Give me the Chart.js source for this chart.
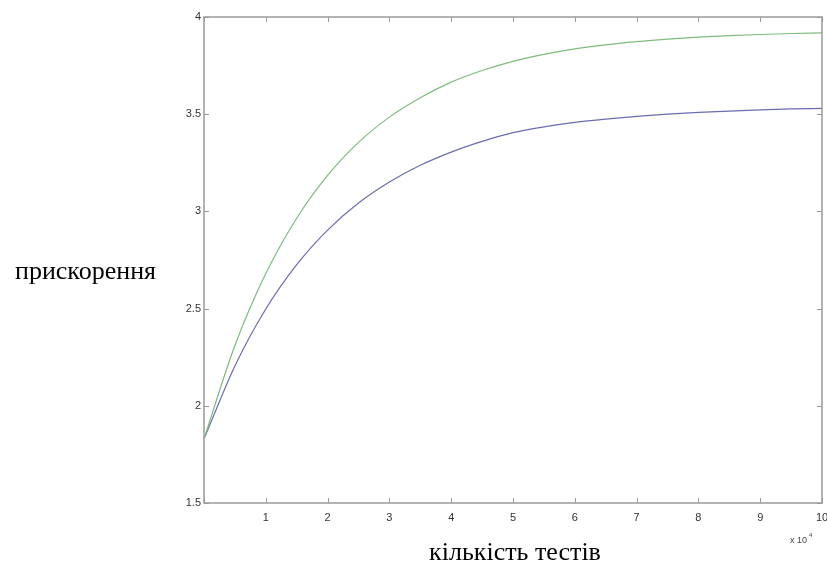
<!DOCTYPE html>
<html>
<head>
<meta charset="utf-8">
<script src="https://cdn.jsdelivr.net/npm/chart.js@4.4.0/dist/chart.umd.min.js"></script>
<style>
  html, body { margin: 0; padding: 0; background: #fff; }
  #wrap { width: 827px; height: 566px; }
</style>
</head>
<body>
<div id="wrap"><canvas id="myChart" width="827" height="566"></canvas></div>
<script>
// кількість тестів, x 10^4
const tests = [0, 0.5, 1, 1.5, 2, 2.5, 3, 3.5, 4, 4.5, 5, 5.5, 6, 6.5, 7, 7.5, 8, 8.5, 9, 9.5, 10];
const greenSeries = [1.83, 2.31, 2.68, 2.965, 3.185, 3.355, 3.485, 3.585, 3.665, 3.725, 3.772, 3.808, 3.836, 3.857, 3.873, 3.886, 3.896, 3.904, 3.910, 3.915, 3.918];
const blueSeries  = [1.83, 2.205, 2.498, 2.726, 2.904, 3.043, 3.151, 3.237, 3.305, 3.36, 3.405, 3.435, 3.458, 3.475, 3.489, 3.50, 3.509, 3.516, 3.522, 3.527, 3.53];
const xTicks = [0, 1, 2, 3, 4, 5, 6, 7, 8, 9, 10];
const yTicks = [1.5, 2, 2.5, 3, 3.5, 4];

const yTitle = 'прискорення';
const xTitle = 'кількість тестів';

const toPoints = (xs, ys) => xs.map((x, i) => ({x: x, y: ys[i]}));

const boxColor = '#9a9a9a';

// рамка, внутрішні риски, підписи осей
const matlabAxes = {
    id: 'matlabAxes',
    afterDraw(chart) {
        const c = chart.ctx;
        const a = chart.chartArea;
        const xs = chart.scales.x;
        const ys = chart.scales.y;
        const len = 5;
        c.save();
        c.strokeStyle = boxColor;
        c.lineWidth = 1.5;
        c.strokeRect(a.left, a.top, a.right - a.left, a.bottom - a.top);
        c.lineWidth = 1;
        c.beginPath();
        xTicks.forEach(v => {
            const px = Math.round(xs.getPixelForValue(v)) + 0.5;
            c.moveTo(px, a.bottom); c.lineTo(px, a.bottom - len);
            c.moveTo(px, a.top); c.lineTo(px, a.top + len);
        });
        yTicks.forEach(v => {
            const py = Math.round(ys.getPixelForValue(v)) + 0.5;
            c.moveTo(a.left, py); c.lineTo(a.left + len, py);
            c.moveTo(a.right, py); c.lineTo(a.right - len, py);
        });
        c.stroke();

        c.fillStyle = '#000';
        c.font = '26px "Liberation Serif"';
        c.textBaseline = 'middle';
        c.textAlign = 'right';
        c.fillText(yTitle, a.left - 48, (a.top + a.bottom) / 2 + 12);
        c.textAlign = 'center';
        c.fillText(xTitle, 515, 553);

        c.fillStyle = '#444';
        c.textAlign = 'left';
        c.font = '9px "Liberation Sans"';
        c.fillText('x 10', a.right - 32, 541);
        c.font = '6px "Liberation Sans"';
        c.fillText('4', a.right - 13, 535);
        c.restore();
    }
};

const ctx = document.querySelector('#myChart').getContext('2d');

const myChart = new Chart(ctx, {
    type: 'line',
    data: {
        datasets: [{
            label: 'green',
            data: toPoints(tests, greenSeries),
            borderColor: 'rgb(125,188,125)',
            borderWidth: 1.2,
            pointRadius: 0,
            cubicInterpolationMode: 'monotone',
            fill: false
        }, {
            label: 'blue',
            data: toPoints(tests, blueSeries),
            borderColor: 'rgb(108,108,178)',
            borderWidth: 1.2,
            pointRadius: 0,
            cubicInterpolationMode: 'monotone',
            fill: false
        }]
    },
    options: {
        responsive: false,
        animation: false,
        events: [],
        layout: { padding: { top: 17, right: 5, left: 0, bottom: 0 } },
        plugins: {
            legend: { display: false },
            tooltip: { enabled: false }
        },
        scales: {
            x: {
                type: 'linear',
                min: 0,
                max: 10,
                afterFit: s => { s.height = 63; s.paddingRight = 0; s.paddingLeft = 0; },
                afterBuildTicks: s => { s.ticks = xTicks.map(v => ({value: v})); },
                ticks: {
                    padding: 8,
                    color: '#333',
                    font: { family: 'Liberation Sans', size: 11 },
                    callback: v => v === 0 ? '' : String(v)
                },
                grid: { drawOnChartArea: false, drawTicks: false },
                border: { display: false }
            },
            y: {
                type: 'linear',
                min: 1.5,
                max: 4,
                afterFit: s => { s.width = 204; s.paddingTop = 0; s.paddingBottom = 0; },
                afterBuildTicks: s => { s.ticks = yTicks.map(v => ({value: v})); },
                ticks: {
                    padding: 3,
                    color: '#333',
                    font: { family: 'Liberation Sans', size: 11 },
                    callback: v => String(v)
                },
                grid: { drawOnChartArea: false, drawTicks: false },
                border: { display: false }
            }
        }
    },
    plugins: [matlabAxes]
});
</script>
</body>
</html>
